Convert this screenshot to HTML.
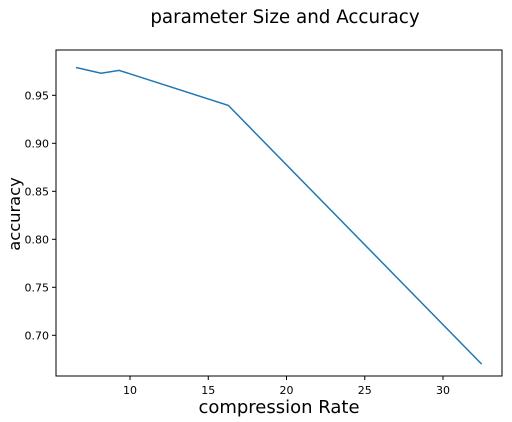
<!DOCTYPE html>
<html><head><meta charset="utf-8"><style>
html,body{margin:0;padding:0;background:#fff;}
svg{display:block;font-family:"DejaVu Sans","Liberation Sans",sans-serif;}
</style></head><body>
<svg id="chart" width="512" height="422">
<text x="285" y="23" font-size="18.3" text-anchor="middle">parameter Size and Accuracy</text>
<g id="axes"></g>
<text x="279" y="413" font-size="18" text-anchor="middle">compression Rate</text>
<text x="20" y="214" font-size="16.3" text-anchor="middle" transform="rotate(-90 20 214)">accuracy</text>
</svg>
<script>
const compression = [6.55, 8.15, 9.3, 16.28, 32.47];
const accuracy = [0.979, 0.973, 0.976, 0.9395, 0.670];
const xTicks = [10, 15, 20, 25, 30];
const yTicks = [0.70, 0.75, 0.80, 0.85, 0.90, 0.95];
const L=56,R=502,T=50,B=376;
const xMin=5.27,xMax=33.77,yMin=0.6576,yMax=0.9972;
function X(v){return L+(v-xMin)/(xMax-xMin)*(R-L);}
function Y(v){return B-(v-yMin)/(yMax-yMin)*(B-T);}
const NS="http://www.w3.org/2000/svg";
const g=document.getElementById('axes');
function mk(t,a){const e=document.createElementNS(NS,t);for(const k in a)e.setAttribute(k,a[k]);g.appendChild(e);return e;}
xTicks.forEach(v=>{
  const l=mk('line',{x1:X(v),x2:X(v),y1:B,y2:B+4,stroke:'#000','stroke-width':1});
  
  
  const t=mk('text',{x:X(v),y:B+18,'font-size':11,'text-anchor':'middle'});
  t.textContent=v;
  
  
});
yTicks.forEach(v=>{
  const l=mk('line',{x1:L-4,x2:L,y1:Y(v),y2:Y(v),stroke:'#000','stroke-width':1});
  
  
  const t=mk('text',{x:L-7,y:Y(v)+4,'font-size':11,'text-anchor':'end'});
  t.textContent=v.toFixed(2);
  
  
});
const p=mk('polyline',{points:compression.map((c,i)=>X(c)+','+Y(accuracy[i])).join(' '),fill:'none',stroke:'#1f77b4','stroke-width':1.5});


const f=mk('rect',{x:L,y:T,width:R-L,height:B-T,fill:'none',stroke:'#000','stroke-width':1});


</script>
</body></html>
